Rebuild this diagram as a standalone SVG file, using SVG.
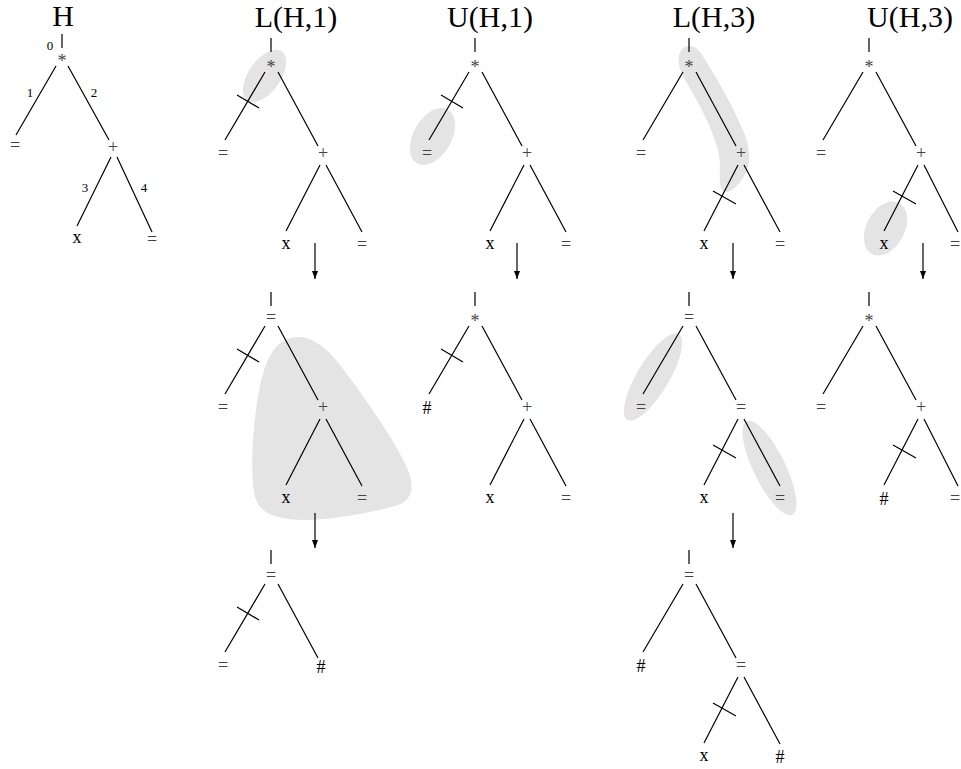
<svg xmlns="http://www.w3.org/2000/svg" width="961" height="769" viewBox="0 0 961 769">
<style>
.e{stroke:#000;stroke-width:1.2;fill:none;stroke-linecap:butt}
.n{font-family:"Liberation Serif","Times New Roman",serif;font-size:18px;text-anchor:middle;fill:#000}
.g{fill:#444}
.t{font-family:"Liberation Serif","Times New Roman",serif;font-size:30px;text-anchor:middle;fill:#000}
.lb{font-family:"Liberation Serif","Times New Roman",serif;font-size:13px;text-anchor:middle;fill:#000}
.hl{fill:#e4e4e4;stroke:none}
.ar{stroke:#000;stroke-width:1.2;fill:none;marker-end:url(#ah)}
</style>
<defs>
<marker id="ah" markerWidth="8" markerHeight="8" viewBox="0 0 8 8" refX="8" refY="4" orient="auto" markerUnits="userSpaceOnUse"><path d="M0,1 L8,4 L0,7Z" fill="#000"/></marker>
</defs>
<rect width="961" height="769" fill="#fff"/>

<g id="highlights">
<ellipse class="hl" cx="264.5" cy="76" rx="30" ry="16" transform="rotate(-55 264.5 76)"/>
<ellipse class="hl" cx="432.5" cy="136.5" rx="31" ry="19" transform="rotate(-60 432.5 136.5)"/>
<path class="hl" d="M680,52 C684,44 694,44 700,52 C712,70 730,100 742,128 C752,150 752,168 740,182 C732,192 724,196 721,188 C718,180 722,165 718,150 C712,128 700,105 688,85 C680,72 676,60 680,52 Z"/>
<ellipse class="hl" cx="885.5" cy="228.5" rx="29" ry="19" transform="rotate(-62 885.5 228.5)"/>
<path class="hl" d="M298,337 C310,337 325,345 340,365 C365,398 395,440 408,470 C416,490 410,502 395,506 C365,514 330,520 305,520 C280,520 262,515 256,500 C250,480 252,440 256,410 C260,380 266,355 280,343 C286,339 292,337 298,337 Z"/>
<ellipse class="hl" cx="653" cy="377" rx="50" ry="16" transform="rotate(-59 653 377)"/>
<ellipse class="hl" cx="769.5" cy="468" rx="52" ry="16" transform="rotate(64 769.5 468)"/>
</g>

<g id="titles">
<text class="t" x="63" y="26">H</text>
<text class="t" x="296" y="27">L(H,1)</text>
<text class="t" x="490" y="27">U(H,1)</text>
<text class="t" x="714" y="27">L(H,3)</text>
<text class="t" x="910" y="27">U(H,3)</text>
</g>

<g id="connectors">
<g id="arrows">
<line class="ar" x1="315" y1="243" x2="315" y2="279"/>
<line class="ar" x1="517" y1="243" x2="517" y2="279"/>
<line class="ar" x1="733" y1="243" x2="733" y2="279"/>
<line class="ar" x1="923" y1="243" x2="923" y2="279"/>
<line class="ar" x1="315" y1="513" x2="315" y2="548"/>
<line class="ar" x1="733" y1="513" x2="733" y2="548"/>
</g>
<g id="H-edges">
<path class="e" d="M62,34V48 M56,66L16,135 M68,66L109,140 M111,157L77,226 M117,157L152,232"/>
<text class="lb" x="50" y="50">0</text>
<text class="lb" x="30" y="97">1</text>
<text class="lb" x="94" y="97">2</text>
<text class="lb" x="85" y="192">3</text>
<text class="lb" x="144" y="192">4</text>
</g>
<g id="L1a-edges" transform="translate(271,38)"><path class="e" d="M0,0V14 M-6,34L-46,102 M7,34L47,108 M49,127L15,193 M55,127L91,194 M-34,57L-12,70"/></g>
<g id="U1a-edges" transform="translate(475,38)"><path class="e" d="M0,0V14 M-6,34L-46,102 M7,34L47,108 M49,127L15,193 M55,127L91,194 M-34,57L-12,70"/></g>
<g id="L3a-edges" transform="translate(689,38)"><path class="e" d="M0,0V14 M-6,34L-46,102 M7,34L47,108 M49,127L15,193 M55,127L91,194 M24,153L47,166"/></g>
<g id="U3a-edges" transform="translate(869,38)"><path class="e" d="M0,0V14 M-6,34L-46,102 M7,34L47,108 M49,127L15,193 M55,127L89,194 M24,153L47,166"/></g>
<g id="L1b-edges" transform="translate(271,292)"><path class="e" d="M0,0V14 M-6,34L-46,102 M7,34L47,108 M49,127L15,193 M55,127L91,194 M-34,57L-12,70"/></g>
<g id="U1b-edges" transform="translate(475,292)"><path class="e" d="M0,0V14 M-6,34L-46,102 M7,34L47,108 M49,127L15,193 M55,127L91,194 M-34,57L-12,70"/></g>
<g id="L3b-edges" transform="translate(689,292)"><path class="e" d="M0,0V14 M-6,34L-46,102 M7,34L47,108 M49,127L15,193 M55,127L91,194 M24,153L47,166"/></g>
<g id="U3b-edges" transform="translate(869,292)"><path class="e" d="M0,0V14 M-6,34L-46,102 M7,34L47,108 M49,127L15,193 M55,127L89,194 M24,153L47,166"/></g>
<g id="L1c-edges" transform="translate(271,550)"><path class="e" d="M0,0V14 M-6,34L-46,102 M7,34L47,108 M-34,57L-12,70"/></g>
<g id="L3c-edges" transform="translate(689,550)"><path class="e" d="M0,0V14 M-6,34L-46,102 M7,34L47,108 M49,127L15,193 M55,127L91,194 M24,153L47,166"/></g>
</g>

<g id="H">
<g id="H-n0"><text class="n g" x="62" y="67">*</text></g>
<g id="H-n1"><text class="n g" x="15" y="151">=</text></g>
<g id="H-n2"><text class="n g" x="113" y="153">+</text></g>
<g id="H-n3"><text class="n" x="77" y="243">x</text></g>
<g id="H-n4"><text class="n g" x="152" y="245">=</text></g>
</g>

<g id="L1a" transform="translate(271,38)">
<g id="L1a-n0"><text class="n g" x="0" y="35">*</text></g>
<g id="L1a-n1"><text class="n g" x="-48" y="121">=</text></g>
<g id="L1a-n2"><text class="n g" x="52" y="121">+</text></g>
<g id="L1a-n3"><text class="n" x="15" y="211">x</text></g>
<g id="L1a-n4"><text class="n g" x="91" y="212">=</text></g>
</g>

<g id="U1a" transform="translate(475,38)">
<g id="U1a-n0"><text class="n g" x="0" y="35">*</text></g>
<g id="U1a-n1"><text class="n g" x="-48" y="121">=</text></g>
<g id="U1a-n2"><text class="n g" x="52" y="121">+</text></g>
<g id="U1a-n3"><text class="n" x="15" y="211">x</text></g>
<g id="U1a-n4"><text class="n g" x="91" y="212">=</text></g>
</g>

<g id="L3a" transform="translate(689,38)">
<g id="L3a-n0"><text class="n g" x="0" y="35">*</text></g>
<g id="L3a-n1"><text class="n g" x="-48" y="121">=</text></g>
<g id="L3a-n2"><text class="n g" x="52" y="121">+</text></g>
<g id="L3a-n3"><text class="n" x="15" y="211">x</text></g>
<g id="L3a-n4"><text class="n g" x="91" y="212">=</text></g>
</g>

<g id="U3a" transform="translate(869,38)">
<g id="U3a-n0"><text class="n g" x="0" y="35">*</text></g>
<g id="U3a-n1"><text class="n g" x="-48" y="121">=</text></g>
<g id="U3a-n2"><text class="n g" x="52" y="121">+</text></g>
<g id="U3a-n3"><text class="n" x="15" y="211">x</text></g>
<g id="U3a-n4"><text class="n g" x="86" y="212">=</text></g>
</g>

<g id="L1b" transform="translate(271,292)">
<g id="L1b-n0"><text class="n g" x="0" y="31">=</text></g>
<g id="L1b-n1"><text class="n g" x="-48" y="121">=</text></g>
<g id="L1b-n2"><text class="n g" x="52" y="121">+</text></g>
<g id="L1b-n3"><text class="n" x="15" y="211">x</text></g>
<g id="L1b-n4"><text class="n g" x="91" y="212">=</text></g>
</g>

<g id="U1b" transform="translate(475,292)">
<g id="U1b-n0"><text class="n g" x="0" y="35">*</text></g>
<g id="U1b-n1"><text class="n" x="-48" y="122">#</text></g>
<g id="U1b-n2"><text class="n g" x="52" y="121">+</text></g>
<g id="U1b-n3"><text class="n" x="15" y="211">x</text></g>
<g id="U1b-n4"><text class="n g" x="91" y="212">=</text></g>
</g>

<g id="L3b" transform="translate(689,292)">
<g id="L3b-n0"><text class="n g" x="0" y="31">=</text></g>
<g id="L3b-n1"><text class="n g" x="-48" y="121">=</text></g>
<g id="L3b-n2"><text class="n g" x="52" y="121">=</text></g>
<g id="L3b-n3"><text class="n" x="15" y="211">x</text></g>
<g id="L3b-n4"><text class="n g" x="91" y="212">=</text></g>
</g>

<g id="U3b" transform="translate(869,292)">
<g id="U3b-n0"><text class="n g" x="0" y="35">*</text></g>
<g id="U3b-n1"><text class="n g" x="-48" y="121">=</text></g>
<g id="U3b-n2"><text class="n g" x="52" y="121">+</text></g>
<g id="U3b-n3"><text class="n" x="15" y="213">#</text></g>
<g id="U3b-n4"><text class="n g" x="86" y="212">=</text></g>
</g>

<g id="L1c" transform="translate(271,550)">
<g id="L1c-n0"><text class="n g" x="0" y="31">=</text></g>
<g id="L1c-n1"><text class="n g" x="-48" y="121">=</text></g>
<g id="L1c-n2"><text class="n" x="50" y="123">#</text></g>
</g>

<g id="L3c" transform="translate(689,550)">
<g id="L3c-n0"><text class="n g" x="0" y="31">=</text></g>
<g id="L3c-n1"><text class="n" x="-48" y="122">#</text></g>
<g id="L3c-n2"><text class="n g" x="52" y="121">=</text></g>
<g id="L3c-n3"><text class="n" x="15" y="211">x</text></g>
<g id="L3c-n4"><text class="n" x="91" y="213">#</text></g>
</g>
</svg>
